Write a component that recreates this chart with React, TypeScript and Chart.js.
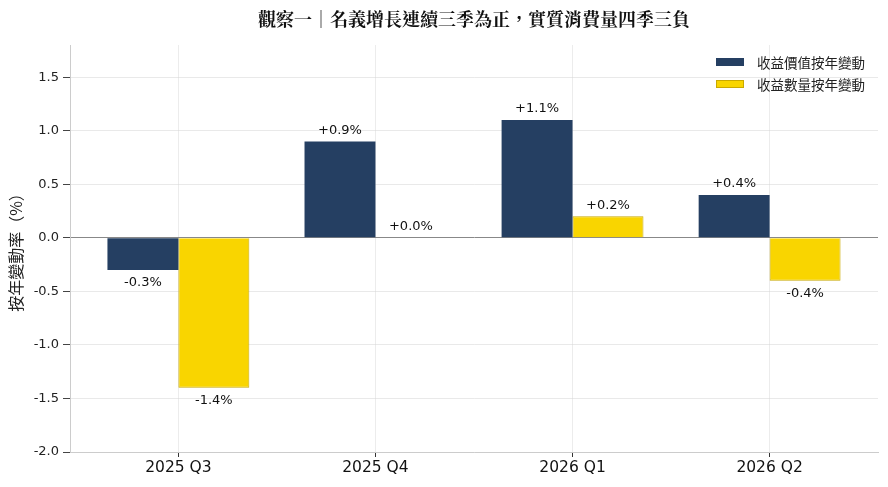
import { useEffect, useRef } from "react";
import { Chart, registerables } from "chart.js";

Chart.register(...registerables);

const quarters = ["2025 Q3", "2025 Q4", "2026 Q1", "2026 Q2"];
const valueYoY = [-0.3, 0.9, 1.1, 0.4];
const volumeYoY = [-1.4, 0.0, 0.2, -0.4];
const seriesNames = ["收益價值按年變動", "收益數量按年變動"];
const yTicks = [-2.0, -1.5, -1.0, -0.5, 0.0, 0.5, 1.0, 1.5];

const TITLE = "觀察一｜名義增長連續三季為正，實質消費量四季三負";
const Y_TITLE = "按年變動率（%）";

const NAVY = "#253f62";
const YELLOW = "#f9d500";
const YELLOW_EDGE = "#c9a900";

const LATIN = "'DejaVu Sans', 'Noto Sans CJK TC', sans-serif";
const CJK = "'Noto Sans CJK TC', 'DejaVu Sans', sans-serif";

const fmt = (v: number) => (v >= 0 ? "+" : "") + v.toFixed(1) + "%";

const overlayPlugin = {
  id: "overlay",
  afterDraw(chart: Chart) {
    const { ctx, chartArea } = chart;
    ctx.save();

    // bar value labels
    ctx.font = `13px ${LATIN}`;
    ctx.fillStyle = "#111";
    ctx.textAlign = "center";
    ctx.textBaseline = "middle";
    chart.data.datasets.forEach((ds, di) => {
      const meta = chart.getDatasetMeta(di);
      meta.data.forEach((el: any, i) => {
        const v = (ds.data[i] as any).y as number;
        const y = v >= 0 ? el.y - 11 : el.y + 13;
        ctx.fillText(fmt(v), el.x, y);
      });
    });

    // title centred over the plot area
    ctx.font = `bold 18px 'Noto Serif CJK TC', ${CJK}`;
    ctx.fillStyle = "#111";
    ctx.fillText(TITLE, (chartArea.left + chartArea.right) / 2, 19);

    // legend in the upper right of the plot
    const colors = [
      [NAVY, NAVY],
      [YELLOW, YELLOW_EDGE],
    ];
    ctx.font = `13.5px ${CJK}`;
    ctx.textAlign = "left";
    seriesNames.forEach((name, i) => {
      const cy = 62 + i * 22;
      ctx.fillStyle = colors[i][0];
      ctx.fillRect(716, cy - 4, 28, 8);
      ctx.strokeStyle = colors[i][1];
      ctx.lineWidth = 1;
      ctx.strokeRect(716.5, cy - 3.5, 27, 7);
      ctx.fillStyle = "#222";
      ctx.fillText(name, 757, cy + 1);
    });

    ctx.restore();
  },
};

export default function App() {
  const chartRef = useRef<HTMLCanvasElement>(null);
  const chartInstance = useRef<Chart | null>(null);

  useEffect(() => {
    document.body.style.margin = "0";
    if (!chartRef.current) return;
    if (chartInstance.current) chartInstance.current.destroy();

    chartInstance.current = new Chart(chartRef.current, {
      type: "bar",
      data: {
        datasets: [
          {
            label: seriesNames[0],
            data: valueYoY.map((v, i) => ({ x: i, y: v })),
            backgroundColor: NAVY,
            borderColor: NAVY,
            borderWidth: 0,
          },
          {
            label: seriesNames[1],
            data: volumeYoY.map((v, i) => ({ x: i, y: v })),
            backgroundColor: YELLOW,
            borderColor: YELLOW_EDGE,
            borderWidth: 1,
          },
        ],
      },
      options: {
        animation: false,
        responsive: true,
        maintainAspectRatio: false,
        categoryPercentage: 0.72,
        barPercentage: 1.0,
        layout: { padding: { top: 45, right: 10, left: 6, bottom: 0 } },
        plugins: {
          legend: { display: false },
          title: { display: false },
          tooltip: { enabled: false },
        },
        scales: {
          x: {
            type: "linear",
            min: -0.55,
            max: 3.55,
            offset: false,
            afterBuildTicks: (scale: any) => {
              scale.ticks = quarters.map((_, i) => ({ value: i }));
            },
            afterFit: (scale: any) => {
              scale.height = 35;
            },
            ticks: {
              color: "#111",
              font: { family: LATIN, size: 15.5 },
              padding: 2,
              callback: (v: any) => quarters[v as number] ?? "",
            },
            grid: {
              offset: false,
              color: "#ececec",
              tickColor: "#333",
              tickLength: 5,
            },
            border: { color: "#cccccc", width: 1 },
          },
          y: {
            min: -2.0,
            max: 1.8,
            z: 1,
            afterBuildTicks: (scale: any) => {
              scale.ticks = yTicks.map((v) => ({ value: v }));
            },
            afterFit: (scale: any) => {
              scale.width = 64;
            },
            ticks: {
              color: "#222",
              font: { family: LATIN, size: 13 },
              padding: 4,
              callback: (v: any) => (v as number).toFixed(1),
            },
            grid: {
              color: (c: any) =>
                c.tick && c.tick.value === 0 ? "#888888" : "rgba(215,215,215,0.55)",
              tickColor: "#444",
              tickLength: 7,
            },
            border: { color: "#cccccc", width: 1 },
            title: {
              display: true,
              text: Y_TITLE,
              color: "#222",
              font: { family: CJK, size: 16 },
              padding: { top: 0, bottom: 0 },
            },
          },
        },
      },
      plugins: [overlayPlugin],
    } as any);

    return () => {
      if (chartInstance.current) {
        chartInstance.current.destroy();
        chartInstance.current = null;
      }
    };
  }, []);

  return (
    <div style={{ width: 888, height: 487, position: "relative", background: "#fff" }}>
      <canvas ref={chartRef}></canvas>
    </div>
  );
}
